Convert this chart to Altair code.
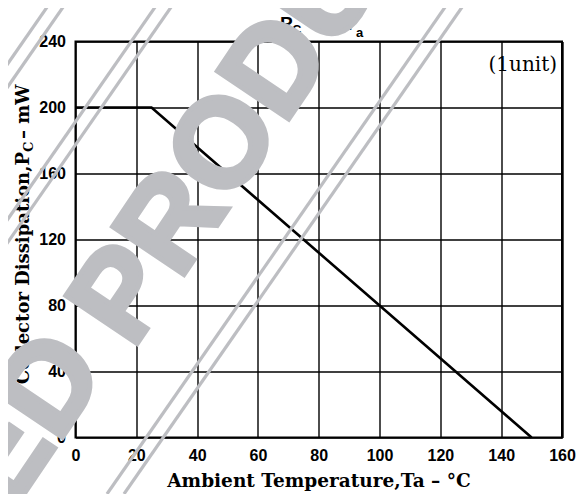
import math
import altair as alt
import pandas as pd

# ---- data ----
temps = [0, 25, 150]          # Ambient temperature Ta (°C)
power = [200, 200, 0]         # Collector dissipation Pc (mW)
x_ticks = [0, 20, 40, 60, 80, 100, 120, 140, 160]
y_ticks = [0, 40, 80, 120, 160, 200, 240]

df = pd.DataFrame({"Ta": temps, "Pc": power})

# ---- layout (plot area in page px: x 75.5..562, y 41.5..437.5) ----
W, H = 486.5, 396
OX, OY = 75.5, 41.5   # page offset of plot origin

def px(x):
    return x - OX

def py(y):
    return y - OY

TICK_FONT = "Liberation Sans"
SERIF = "DejaVu Serif"
GREY = "#bdbec2"
NBSP = "\u00a0"

x_scale = alt.Scale(domain=[0, 160], nice=False, zero=False)
y_scale = alt.Scale(domain=[0, 240], nice=False)

axis_common = dict(
    grid=True, gridColor="black", gridWidth=1.4, gridOpacity=1,
    domain=False, ticks=False, labelFont=TICK_FONT, labelFontWeight="bold",
    labelFontSize=16, labelColor="black", labelPadding=10, labelFlush=False,
    title=None,
)

line = alt.Chart(df).mark_line(color="black", strokeWidth=2.6).encode(
    x=alt.X("Ta:Q", scale=x_scale, axis=alt.Axis(values=x_ticks, **axis_common)),
    y=alt.Y("Pc:Q", scale=y_scale, axis=alt.Axis(values=y_ticks, **axis_common)),
)

dummy = pd.DataFrame({"d": [0]})

def txt(text, x, y, size, font=SERIF, weight="bold", align="left", angle=0,
        color="black", baseline="alphabetic", stroke=None, stroke_width=None):
    kw = dict(text=text, font=font, fontSize=size, fontWeight=weight, align=align,
              baseline=baseline, color=color)
    if angle:
        kw["angle"] = angle
    if stroke:
        kw["stroke"] = stroke
        kw["strokeWidth"] = stroke_width
    return alt.Chart(dummy).mark_text(**kw).encode(x=alt.value(px(x)), y=alt.value(py(y)))

# chart title  P_C — T_a
title_parts = [
    txt("P", 280, 30, 19, font=TICK_FONT),
    txt("C", 292, 34, 13, font=TICK_FONT),
    txt("—", 310, 30, 19, font=TICK_FONT),
    txt("T", 344, 30, 19, font=TICK_FONT),
    txt("a", 356, 37, 13, font=TICK_FONT),
]

unit = txt("(1unit)", 557, 71, 20, font=SERIF, weight="normal", align="right")

x_title = txt("Ambient Temperature,Ta – °C", 319, 487, 18.5, align="center")

ya = 152
y_title = [
    txt("Collector Dissipation,P", 29, ya, 18, align="right", angle=270),
    txt("C", 33, ya, 13, align="left", angle=270),
    txt(NBSP + "– mW", 29, ya - 13, 18, align="left", angle=270),
]

# ---- watermark: letters placed one by one along a rotated baseline ----
WM_ANGLE = 304
WM_SIZE = 125
WM_TRACK = 1.0
bx, by = math.cos(math.radians(WM_ANGLE)), math.sin(math.radians(WM_ANGLE))
wm_letters = ["E", "D", " ", "P", "R", "O", "D", "U", "C", "T"]
wm_adv = {"E": 0.667, "D": 0.722, " ": 0.278, "P": 0.667, "R": 0.722,
          "O": 0.778, "U": 0.722, "C": 0.722, "T": 0.611}
wm_nudge = {0: (-5, -10), 1: (-5, -10)}   # first two letters sit slightly higher
anchor_idx, anchor_pos = 6, (284, 126)   # baseline origin of the second "D"
cum = [0.0]
for ch in wm_letters[:-1]:
    cum.append(cum[-1] + wm_adv[ch])
wm = []
for i, ch in enumerate(wm_letters):
    if ch == " ":
        continue
    d = (cum[i] - cum[anchor_idx]) * WM_SIZE * WM_TRACK
    nx, ny = wm_nudge.get(i, (0, 0))
    wm.append(txt(ch, anchor_pos[0] + d * bx + nx, anchor_pos[1] + d * by + ny, WM_SIZE,
                  font=TICK_FONT, weight="bold", angle=WM_ANGLE, color=GREY,
                  stroke=GREY, stroke_width=5))

rules = []
for xt in [52, 68, 160, 176, 450, 467]:
    rules.append(
        alt.Chart(dummy).mark_rule(color=GREY, strokeWidth=3.2).encode(
            x=alt.value(px(xt)), y=alt.value(py(0)),
            x2=alt.value(px(xt - 343)), y2=alt.value(py(494)),
        )
    )

chart = alt.layer(line, *title_parts, unit, x_title, *y_title, *wm, *rules).properties(
    width=W, height=H,
    autosize=alt.AutoSizeParams(type="none"),
    padding={"left": OX - 8, "top": OY - 8, "right": 15, "bottom": 486 - (OY - 8) - H},
    background="white",
).configure_view(stroke="black", strokeWidth=2)

chart.save("out.html", embed_options={"renderer": "svg", "actions": False})
